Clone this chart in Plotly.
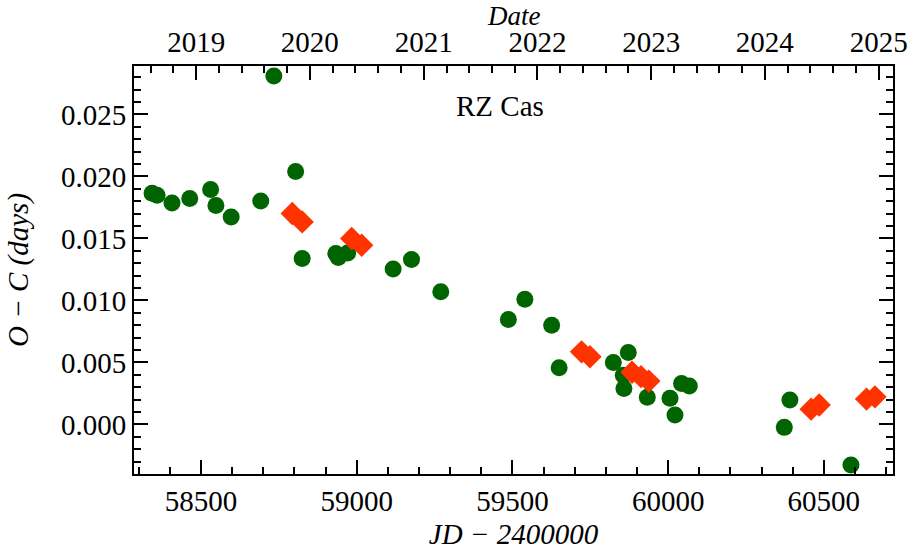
import datetime as dt
import plotly.graph_objects as go

# ---- data (JD - 2400000, O-C days) ----
green_jd = [58343, 58359, 58407, 58464, 58531, 58548, 58597, 58692, 58734, 58804,
            58825, 58933, 58941, 58971, 59117, 59176, 59270, 59487, 59540, 59626,
            59650, 59824, 59872, 59856, 59858, 59933, 60006, 60022, 60043, 60068,
            60373, 60391, 60587]
green_oc = [0.01864, 0.01848, 0.01786, 0.01821, 0.01894, 0.01765, 0.01673, 0.01802, 0.02809, 0.02040,
            0.01338, 0.01378, 0.01346, 0.01383, 0.01253, 0.01330, 0.01069, 0.00846, 0.01010, 0.00800,
            0.00456, 0.00500, 0.00580, 0.00397, 0.00290, 0.00218, 0.00210, 0.00075, 0.00330, 0.00309,
            -0.00024, 0.00196, -0.00328]

red_jd = [58793, 58825, 58984, 59016, 59722, 59749, 59884, 59913, 59938, 60459, 60485, 60637, 60664]
red_oc = [0.01700, 0.01633, 0.01499, 0.01445, 0.00585, 0.00545, 0.00421, 0.00385, 0.00349,
          0.00123, 0.00156, 0.00204, 0.00222]

x_ticks = [58500, 59000, 59500, 60000, 60500]
y_ticks = [0.000, 0.005, 0.010, 0.015, 0.020, 0.025]
years = [2019, 2020, 2021, 2022, 2023, 2024, 2025]

X_RANGE = [58285, 60722]
Y_RANGE = [-0.0040, 0.0289]

MJD0 = dt.date(1858, 11, 17)


def jd_of(d):
    return (d - MJD0).days + 0.5


year_vals = [jd_of(dt.date(y, 1, 1)) for y in years]
minor_year_vals = []
for y in range(2018, 2026):
    a = jd_of(dt.date(y, 1, 1))
    b = jd_of(dt.date(y + 1, 1, 1))
    for k in range(1, 5):
        v = a + k / 5 * (b - a)
        if X_RANGE[0] <= v <= X_RANGE[1]:
            minor_year_vals.append(v)

FONT = "Liberation Serif, Times New Roman, serif"
FS = 29

fig = go.Figure()
fig.add_trace(go.Scatter(x=green_jd, y=green_oc, mode="markers",
                         marker=dict(symbol="circle", size=17, color="#006400", line=dict(width=0)),
                         showlegend=False))
fig.add_trace(go.Scatter(x=red_jd, y=red_oc, mode="markers",
                         marker=dict(symbol="diamond", size=18, color="#ff3300", line=dict(width=0)),
                         showlegend=False))
# invisible trace to activate top axis
fig.add_trace(go.Scatter(x=[X_RANGE[0]], y=[Y_RANGE[0]], xaxis="x2", mode="markers",
                         marker=dict(opacity=0), showlegend=False, hoverinfo="skip"))

fig.update_layout(
    width=912, height=552,
    margin=dict(l=134, r=19, t=66, b=78),
    paper_bgcolor="white", plot_bgcolor="white",
    font=dict(family=FONT, size=FS, color="black"),
    xaxis=dict(range=X_RANGE, tickmode="array", tickvals=x_ticks,
               ticktext=[str(v) for v in x_ticks], automargin=False,
               ticks="inside", ticklen=14, tickwidth=2, tickcolor="black",
               minor=dict(dtick=100, tick0=58500, ticks="inside", ticklen=7, tickwidth=2, tickcolor="black"),
               showline=True, linewidth=2, linecolor="black", mirror=False,
               showgrid=False, zeroline=False,
               title=dict(text="<i>JD − 2400000</i>", standoff=8, font=dict(size=FS))),
    xaxis2=dict(range=X_RANGE, overlaying="x", side="top", anchor="y", automargin=False,
                tickmode="array", tickvals=year_vals, ticktext=[str(y) for y in years],
                ticks="inside", ticklen=14, tickwidth=2, tickcolor="black",
                minor=dict(tickmode="array", tickvals=minor_year_vals, ticks="inside",
                           ticklen=7, tickwidth=2, tickcolor="black"),
                showline=True, linewidth=2, linecolor="black",
                showgrid=False, zeroline=False),
    yaxis=dict(range=Y_RANGE, tickmode="array", tickvals=y_ticks,
               ticktext=["%.3f" % v for v in y_ticks], automargin=False,
               ticks="inside", ticklen=14, tickwidth=2, tickcolor="black",
               minor=dict(dtick=0.001, tick0=0, ticks="inside", ticklen=7, tickwidth=2, tickcolor="black"),
               showline=True, linewidth=2, linecolor="black", mirror="ticks",
               showgrid=False, zeroline=False,
               title=dict(text="<i>O − C (days)</i>", standoff=24, font=dict(size=FS))),
    annotations=[
        dict(text="RZ Cas", x=0.482, y=0.902, xref="paper", yref="paper",
             showarrow=False, font=dict(size=FS), xanchor="center", yanchor="middle"),
        dict(text="<i>Date</i>", x=0.5, y=(474 + 1) / 408, xref="paper", yref="paper",
             showarrow=False, font=dict(size=27), xanchor="center", yanchor="top"),
    ],
)

fig.write_html("out.html")
